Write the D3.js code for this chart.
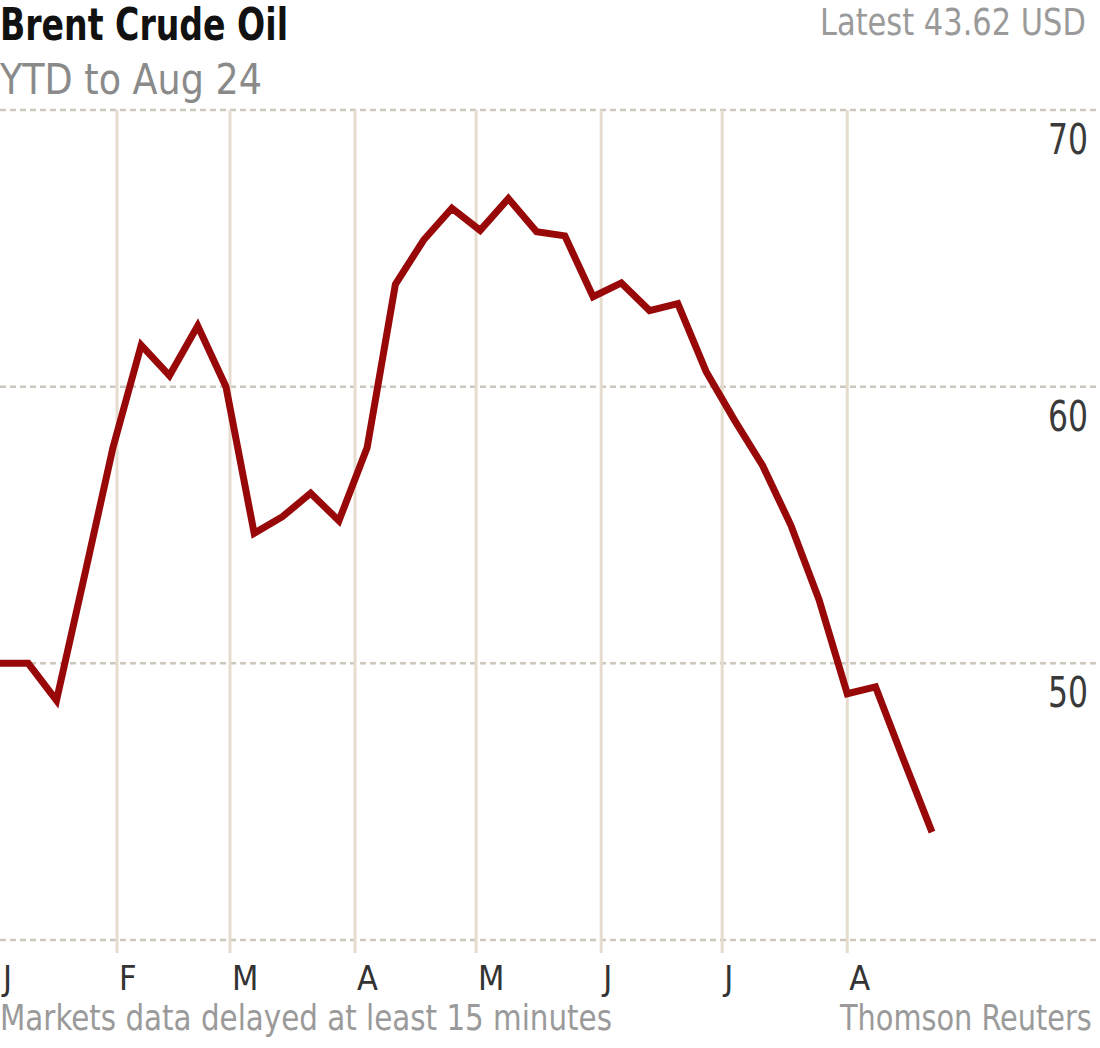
<!DOCTYPE html>
<html>
<head>
<meta charset="utf-8">
<script src="https://cdn.jsdelivr.net/npm/d3@7"></script>
<style>
  html, body { margin: 0; padding: 0; background: #fff; }
  svg { display: block; }
  text { font-family: "Liberation Sans Narrow", "DejaVu Sans Condensed", "Arial Narrow", sans-serif; }
</style>
</head>
<body>
<svg id="chart" width="1100" height="1048"></svg>
<script>
// ---- data ----
const startDate = "2015-01-03";
const prices = [
  50.0, 50.0, 48.66, 53.2, 57.8, 61.5, 60.4, 62.2, 60.0, 54.7,
  55.3, 56.15, 55.15, 57.8, 63.7, 65.3, 66.45, 65.65, 66.8, 65.6,
  65.45, 63.25, 63.75, 62.75, 63.0, 60.55, 58.8, 57.15, 55.0, 52.3,
  48.9, 49.15, 46.5, 43.9
];
const yTicks = [40, 50, 60, 70];
const yTickLabels = ["", "50", "60", "70"];
const monthStarts = ["2015-01-01","2015-02-01","2015-03-01","2015-04-01","2015-05-01","2015-06-01","2015-07-01","2015-08-01"];
const monthLabels = ["J","F","M","A","M","J","J","A"];
const title = "Brent Crude Oil";
const subtitle = "YTD to Aug 24";
const latest = "Latest 43.62 USD";
const footLeft = "Markets data delayed at least 15 minutes";
const footRight = "Thomson Reuters";

// ---- build ----
const parse = d3.utcParse("%Y-%m-%d");
const d0 = parse(startDate);
const data = prices.map((v, i) => ({ date: d3.utcDay.offset(d0, 7 * i), value: v }));

const svg = d3.select("#chart");
const W = 1100;
const x = d3.scaleUtc().domain([data[0].date, data[data.length - 1].date]).range([0, 932]);
const y = d3.scaleLinear().domain([40, 70]).range([940, 110]);

// horizontal dashed gridlines
svg.append("g").selectAll("line").data(yTicks).join("line")
  .attr("x1", 0).attr("x2", W)
  .attr("y1", d => y(d)).attr("y2", d => y(d))
  .attr("stroke", "#cdc7bd").attr("stroke-width", 2.5)
  .attr("stroke-dasharray", "6,4");

// vertical month lines
const months = monthStarts.map(parse);
svg.append("g").selectAll("line").data(months.slice(1)).join("line")
  .attr("x1", d => x(d)).attr("x2", d => x(d))
  .attr("y1", y(70)).attr("y2", y(40) + 13)
  .attr("stroke", "#e6dccd").attr("stroke-width", 3);

// line
const line = d3.line().x(d => x(d.date)).y(d => y(d.value));
svg.append("path").datum(data)
  .attr("d", line)
  .attr("fill", "none")
  .attr("stroke", "#990808")
  .attr("stroke-width", 7)
  .attr("stroke-linejoin", "miter");

// text helper: condensed horizontally via transform to a target width
function label(txt, left, base, size, fill, width, weight) {
  const g = svg.append("g");
  const t = g.append("text").attr("x", 0).attr("y", 0)
    .attr("font-size", size).attr("fill", fill)
    .attr("font-weight", weight || "normal")
    .text(txt);
  const natural = t.node().getComputedTextLength() || width;
  const sx = width / natural;
  g.attr("transform", `translate(${left},${base}) scale(${sx},1)`);
}

// y labels
yTicks.forEach((d, i) => {
  if (yTickLabels[i]) label(yTickLabels[i], 1048, y(d) + 44, 42, "#3a3a3a", 40);
});

// month labels
svg.append("g").selectAll("text").data(months).join("text")
  .attr("x", d => Math.max(3, x(d) + 2)).attr("y", 990)
  .attr("font-size", 34).attr("fill", "#333")
  .text((d, i) => monthLabels[i]);

label(title, 0, 40, 44, "#111", 288, "bold");
label(subtitle, 0, 94, 42, "#8a8a8a", 262);
label(latest, 1086 - 266, 35, 37, "#9a9a9a", 266);
label(footLeft, 0, 1030, 36, "#9a9a9a", 612);
label(footRight, 1092 - 252, 1030, 36, "#9a9a9a", 252);
</script>
</body>
</html>
